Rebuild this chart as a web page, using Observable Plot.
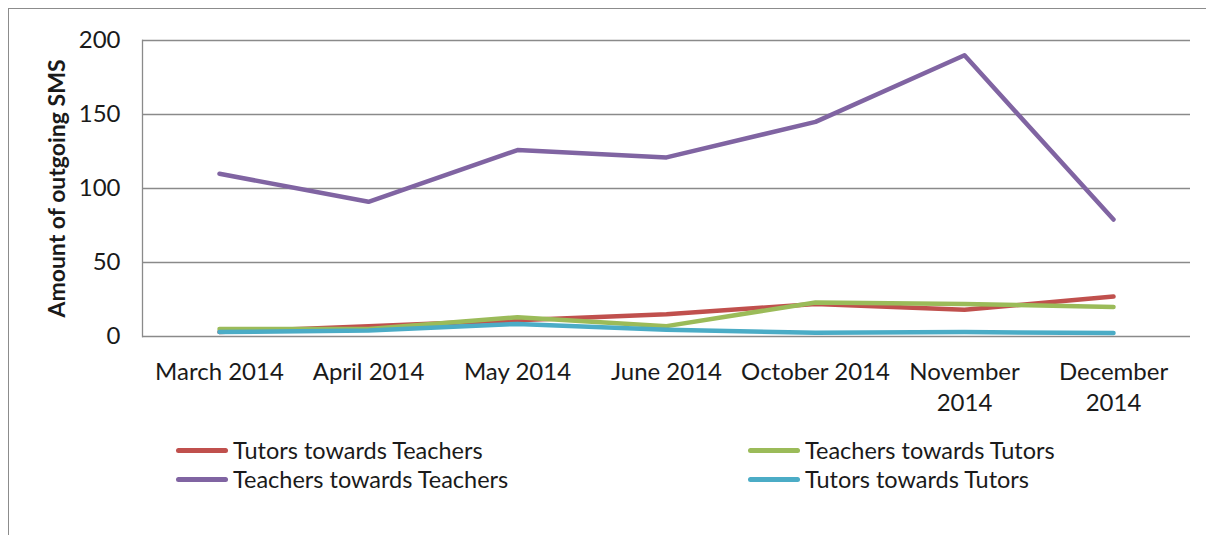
<!DOCTYPE html>
<html>
<head>
<meta charset="utf-8">
<script src="https://cdn.jsdelivr.net/npm/d3@7"></script>
<script src="https://cdn.jsdelivr.net/npm/@observablehq/plot@0.6"></script>
<style>
  html, body { margin: 0; padding: 0; background: #fff; }
  #wrap { position: relative; width: 1206px; height: 535px; overflow: hidden; font-family: Lato, sans-serif; }
  #frame { position: absolute; left: 8px; top: 8px; width: 1210px; height: 540px; border-left: 1.5px solid #8c8c8c; border-top: 1.5px solid #8c8c8c; }
  #chart { position: absolute; left: 0; top: 0; }
  .leg { position: absolute; display: flex; align-items: center; font-size: 23.5px; color: #1a1a1a; white-space: nowrap; line-height: 1; }
  .sw { width: 52px; height: 5px; border-radius: 2.5px; margin-right: 5px; }
</style>
</head>
<body>
<div id="wrap">
  <div id="frame"></div>
  <div id="chart"></div>
  <div id="legend"></div>
</div>
<script>
const months = ["March 2014", "April 2014", "May 2014", "June 2014", "October 2014", "November 2014", "December 2014"];
const monthLabels = ["March 2014", "April 2014", "May 2014", "June 2014", "October 2014", "November\n2014", "December\n2014"];
const seriesNames = ["Tutors towards Teachers", "Teachers towards Tutors", "Teachers towards Teachers", "Tutors towards Tutors"];
const seriesColors = ["#C0504D", "#9BBB59", "#8064A2", "#4BACC6"];
const tutorsToTeachers = [3, 7, 11, 15, 22, 18, 27];
const teachersToTutors = [5, 5, 13, 7, 23, 22, 20];
const teachersToTeachers = [110, 91, 126, 121, 145, 190, 79];
const tutorsToTutors = [3, 4, 8.5, 4.5, 2.5, 3, 2.3];
const yTicks = [0, 50, 100, 150, 200];

const allSeries = [tutorsToTeachers, teachersToTutors, teachersToTeachers, tutorsToTutors];
const rows = [];
allSeries.forEach((vals, si) => vals.forEach((v, i) => rows.push({series: seriesNames[si], month: months[i], value: v})));

const chart = Plot.plot({
  width: 1206,
  height: 420,
  marginLeft: 142,
  marginRight: 16,
  marginTop: 40,
  marginBottom: 84,
  style: { fontFamily: "Lato, sans-serif", fontSize: "24px", color: "#1a1a1a", background: "transparent" },
  x: { type: "point", domain: months, padding: 0.5 },
  y: { domain: [0, 200] },
  color: { domain: seriesNames, range: seriesColors },
  marks: [
    Plot.gridY(yTicks.slice(1), { stroke: "#8a8a8a", strokeOpacity: 1, strokeWidth: 1.3 }),
    Plot.frame({ anchor: "left", stroke: "#8a8a8a", strokeWidth: 1.3 }),
    Plot.ruleY([0], { stroke: "#8a8a8a", strokeWidth: 1.5 }),
    Plot.axisY({ ticks: yTicks, tickSize: 0, tickPadding: 22, fontSize: 24, label: "Amount of outgoing SMS", labelAnchor: "center", labelArrow: "none", labelOffset: 94 }),
    Plot.axisX({ tickSize: 0, tickPadding: 21, fontSize: 24, lineHeight: 1.3, label: null, tickFormat: d => monthLabels[months.indexOf(d)] }),
    Plot.line(rows, { x: "month", y: "value", z: "series", stroke: "series", strokeWidth: 4.5, strokeLinejoin: "round", strokeLinecap: "round" })
  ]
});
document.getElementById("chart").appendChild(chart);
chart.querySelectorAll("g[aria-label='y-axis label']").forEach(el => { el.style.fontWeight = "bold"; el.style.fontSize = "23px"; el.querySelectorAll("text").forEach(t => { t.style.fontWeight = "bold"; t.style.fontSize = "23px"; }); });

const legendPos = [[176, 451], [748, 451], [176, 480], [748, 480]];
const legend = document.getElementById("legend");
seriesNames.forEach((name, i) => {
  const d = document.createElement("div");
  d.className = "leg";
  d.style.left = legendPos[i][0] + "px";
  d.style.top = (legendPos[i][1] - 12) + "px";
  d.innerHTML = `<span class="sw" style="background:${seriesColors[i]}"></span><span>${name}</span>`;
  legend.appendChild(d);
});
</script>
</body>
</html>
